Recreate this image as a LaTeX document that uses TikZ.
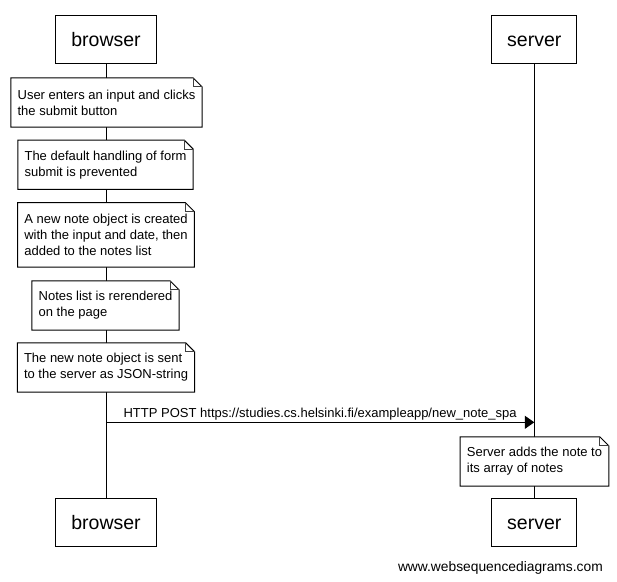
\documentclass[tikz,border=0pt]{standalone}
\usepackage{fontspec}
\setmainfont{Liberation Sans}
\usetikzlibrary{arrows.meta,backgrounds}
\newcommand\noteoutline[1]{%
  \begin{pgfonlayer}{background}
  \draw[notepath, fill=white] (#1.north west) -- ([xshift=-9pt]#1.north east) -- ([yshift=-9pt]#1.north east) -- (#1.south east) -- (#1.south west) -- cycle;
  \draw[notepath, draw=black!75] ([xshift=-9pt]#1.north east) |- ([yshift=-9pt]#1.north east);
  \end{pgfonlayer}}
\begin{document}
\begin{tikzpicture}[x=1pt,y=-1pt,
  actor/.style={draw, line width=1pt, fill=white, font=\fontsize{19.5}{23}\selectfont, inner xsep=15.5pt, text height=14.2pt, text depth=0pt, minimum height=48pt},
  notebox/.style={align=left, font=\fontsize{13}{16}\selectfont, inner xsep=6.5pt, inner ysep=0pt, minimum height=49pt},
  notepath/.style={line width=1pt, line join=miter},
  lifeline/.style={line width=1pt},
  msg/.style={line width=1pt, -{Triangle[length=9.5pt, width=13pt]}},
  msglabel/.style={font=\fontsize{13}{16}\selectfont, anchor=base, inner sep=0pt, yshift=5pt}]
\begin{pgfonlayer}{background}
\fill[white] (0,0) rectangle (617,581);
\end{pgfonlayer}
\useasboundingbox (0,0) rectangle (617,581);
% actors
\node[actor] (bt) at (106,39.8) {browser};
\node[actor] (st) at (534.3,39.8) {server};
\node[actor] (bb) at (106,522.3) {browser};
\node[actor] (sb) at (534.3,522.3) {server};
% lifelines
\begin{pgfonlayer}{background}
\draw[lifeline] (bt.south) -- (bb.north);
\draw[lifeline] (st.south) -- (sb.north);
\end{pgfonlayer}
% notes
\node[notebox] (n1) at (106.5,102.5) {User enters an input and clicks\\the submit button};
\noteoutline{n1}
\node[notebox] (n2) at (105.5,164.7) {The default handling of form\\submit is prevented};
\noteoutline{n2}
\node[notebox, minimum height=64pt] (n3) at (106,234.8) {A new note object is created\\with the input and date, then\\added to the notes list};
\noteoutline{n3}
\node[notebox] (n4) at (105.5,305.5) {Notes list is rerendered\\on the page};
\noteoutline{n4}
\node[notebox] (n5) at (106,367.5) {The new note object is sent\\to the server as JSON-string};
\noteoutline{n5}
% message
\coordinate (m1s) at (106,422.3);
\coordinate (m1e) at (534.3,422.3);
\draw[msg] (m1s) -- (m1e) node[msglabel, midway] {HTTP POST https://studies.cs.helsinki.fi/exampleapp/new\_note\_spa};
\node[notebox] (n6) at (534.5,461.5) {Server adds the note to\\its array of notes};
\noteoutline{n6}
% watermark
\node[font=\fontsize{13.8}{16}\selectfont, anchor=base east, inner sep=0pt] (wm) at (603,571.5) {www.websequencediagrams.com};
\end{tikzpicture}
\end{document}
